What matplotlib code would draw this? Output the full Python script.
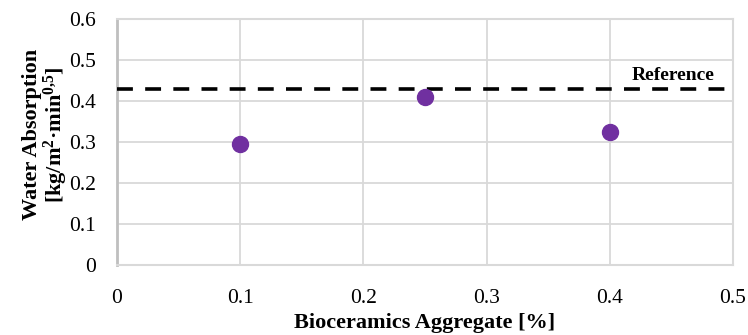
import matplotlib
matplotlib.use("Agg")
import matplotlib.pyplot as plt

aggregate = [0.1, 0.25, 0.4]
absorption = [0.295, 0.41, 0.325]
reference_value = 0.43
x_ticks = [0, 0.1, 0.2, 0.3, 0.4, 0.5]
y_ticks = [0, 0.1, 0.2, 0.3, 0.4, 0.5, 0.6]

plt.rcParams['font.family'] = ['Liberation Serif', 'DejaVu Serif']
plt.rcParams['mathtext.fontset'] = 'custom'
plt.rcParams['mathtext.rm'] = 'Liberation Serif:bold'
plt.rcParams['mathtext.bf'] = 'Liberation Serif:bold'
plt.rcParams['mathtext.it'] = 'Liberation Serif:bold'
plt.rcParams['mathtext.default'] = 'rm'

fig = plt.figure(figsize=(7.48, 3.35), dpi=100)
ax = fig.add_axes([117/748, 70/335, 616/748, 246/335])

ax.set_xlim(0, 0.5)
ax.set_ylim(0, 0.6)
ax.set_xticks(x_ticks)
ax.set_yticks(y_ticks)
ax.set_xticklabels([f"{v:g}" for v in x_ticks])
ax.set_yticklabels([f"{v:g}" for v in y_ticks])
ax.grid(True, color='#d9d9d9', linewidth=1.3)
ax.set_axisbelow(True)
for side in ['top', 'right', 'bottom']:
    ax.spines[side].set_color('#d9d9d9')
    ax.spines[side].set_linewidth(1.5)
ax.spines['left'].set_color('#bfbfbf')
ax.spines['left'].set_linewidth(2.0)
ax.tick_params(axis='both', length=0, labelsize=15.5, colors='#000000')
ax.tick_params(axis='y', pad=15)
ax.tick_params(axis='x', pad=17)

ax.axhline(reference_value, color='black', linewidth=2.6, dashes=(4.4, 3.4), zorder=3)
ax.text(0.451, 0.463, 'Reference', fontsize=14, fontweight='bold', ha='center', va='center')

ax.plot(aggregate, absorption, 'o', color='#7030A0', markersize=11.5, zorder=4, clip_on=False)

ax.set_xlabel('Bioceramics Aggregate [%]', fontsize=16, fontweight='bold', labelpad=4)
ax.set_ylabel('Water Absorption\n[kg/m$^{2}$·min$^{0{,}5}$]', fontsize=16, fontweight='bold', linespacing=1.0)
ax.yaxis.set_label_coords(-0.076, 0.53)

fig.savefig('out.png', dpi=100)
